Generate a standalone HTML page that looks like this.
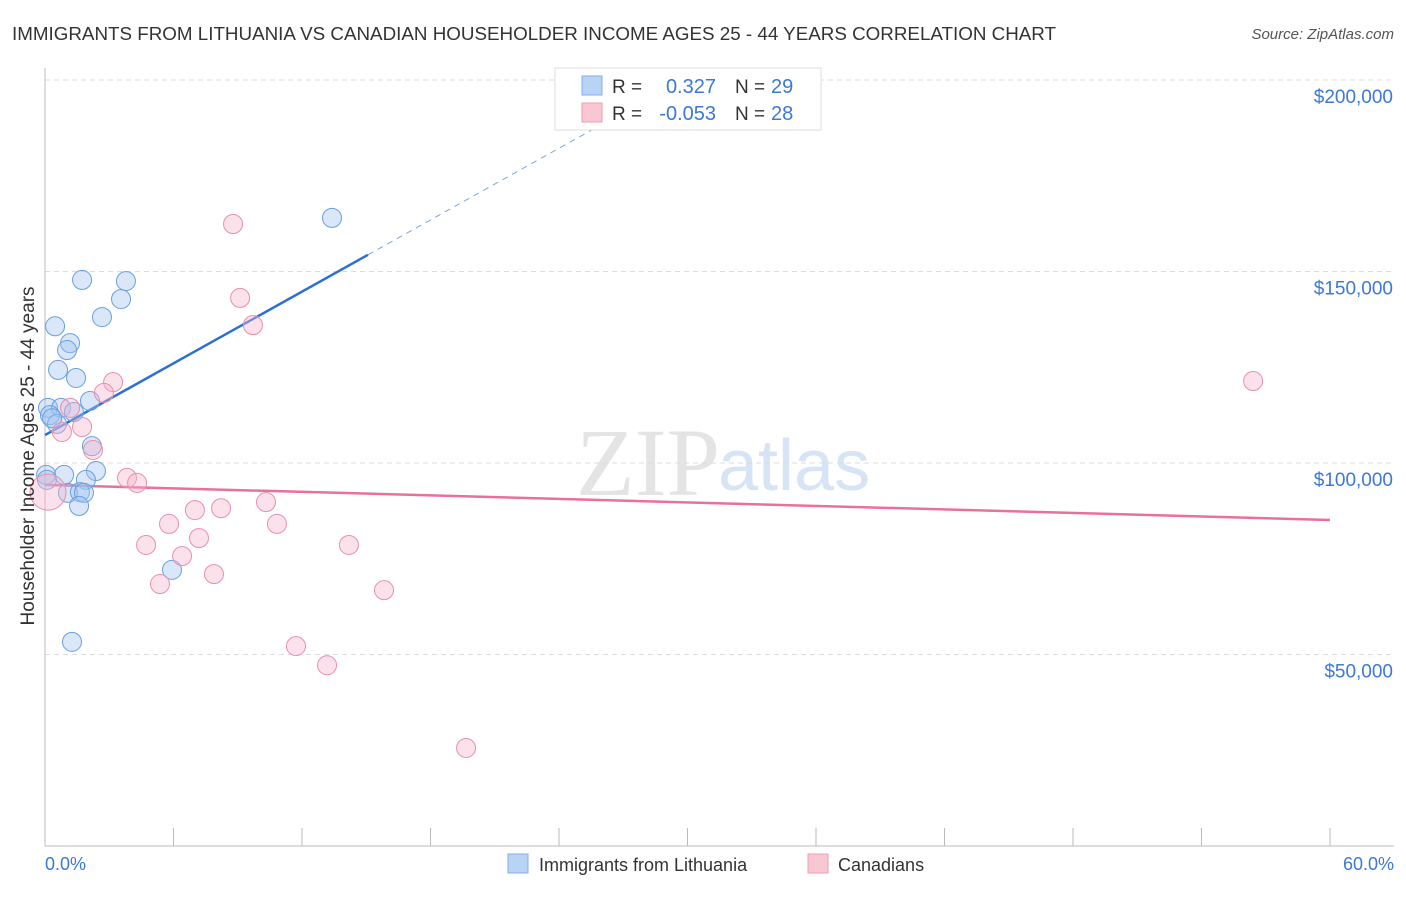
<!DOCTYPE html>
<html><head><meta charset="utf-8"><style>
body{margin:0;background:#fff;font-family:"Liberation Sans",sans-serif;}
</style></head><body>
<svg width="1406" height="892" xmlns="http://www.w3.org/2000/svg" font-family="Liberation Sans, sans-serif">
<text x="12" y="40" font-size="18" fill="#333" textLength="1044" lengthAdjust="spacingAndGlyphs">IMMIGRANTS FROM LITHUANIA VS CANADIAN HOUSEHOLDER INCOME AGES 25 - 44 YEARS CORRELATION CHART</text>
<text x="1394" y="39" font-size="15" fill="#555" font-style="italic" text-anchor="end">Source: ZipAtlas.com</text>
<text x="720" y="495" font-size="96" fill="#e4e4e4" text-anchor="end" font-family="Liberation Serif, serif">ZIP</text>
<text x="718" y="490" font-size="72" fill="#d6e4f5">atlas</text>
<g id="grid"></g>
<line x1="45" y1="68" x2="45" y2="846" stroke="#bbb"/>
<line x1="45" y1="846" x2="1394" y2="846" stroke="#bbb"/>
<g id="ticks"></g>
<g id="lines"></g>
<g id="points"></g>
<text x="34" y="456" font-size="19" fill="#333" text-anchor="middle" transform="rotate(-90 34 456)">Householder Income Ages 25 - 44 years</text>
<text x="45" y="870" font-size="18" fill="#3b78d8">0.0%</text>
<text x="1394" y="870" font-size="18" fill="#3b78d8" text-anchor="end">60.0%</text>
<g>
<rect x="555" y="68" width="266" height="62" fill="#fff" stroke="#ddd"/>
<rect x="582" y="76" width="20" height="19" fill="#b9d3f5" stroke="#84aee6"/>
<rect x="582" y="103" width="20" height="19" fill="#f9c6d4" stroke="#ee9db5"/>
<text x="612" y="93" font-size="19" fill="#333">R =</text>
<text x="716" y="93" font-size="20" fill="#3b78d8" text-anchor="end">0.327</text>
<text x="735" y="93" font-size="19" fill="#333">N =</text>
<text x="771" y="93" font-size="20" fill="#3b78d8">29</text>
<text x="612" y="120" font-size="19" fill="#333">R =</text>
<text x="716" y="120" font-size="20" fill="#3b78d8" text-anchor="end">-0.053</text>
<text x="735" y="120" font-size="19" fill="#333">N =</text>
<text x="771" y="120" font-size="20" fill="#3b78d8">28</text>
</g>
<g>
<rect x="508" y="854" width="20" height="19" fill="#b9d3f5" stroke="#84aee6"/>
<text x="539" y="871" font-size="18" fill="#333">Immigrants from Lithuania</text>
<rect x="808" y="854" width="20" height="19" fill="#f9c6d4" stroke="#ee9db5"/>
<text x="838" y="871" font-size="18" fill="#333">Canadians</text>
</g>
</svg>
<script>
const blueX=[1.73,3.78,3.55,2.66,0.47,1.17,1.03,0.61,1.45,2.10,0.14,0.75,1.35,0.23,0.56,2.19,2.38,0.05,0.89,1.91,1.07,1.63,1.82,1.59,5.93,1.26,13.40,0.33,0.09];
const blueY=[147.8,147.5,142.8,138.1,135.7,131.3,129.5,124.3,122.2,116.2,114.4,114.4,113.3,112.5,110.2,104.4,97.9,96.9,96.9,95.6,92.2,92.4,92.2,88.8,72.1,53.3,164.0,111.7,95.6];
const pinkX=[8.78,9.11,9.71,3.18,2.75,1.17,0.79,1.73,2.24,3.83,4.30,56.41,10.32,7.00,8.22,5.79,10.83,4.72,7.19,6.40,14.19,7.89,5.37,15.83,11.72,13.17,19.66,0.14];
const pinkY=[162.4,143.1,136.0,121.1,118.3,114.4,108.1,109.4,103.4,96.1,94.8,121.4,89.8,87.7,88.2,84.1,84.1,78.6,80.4,75.7,78.6,71.0,68.4,66.8,52.2,47.2,25.6,92.4];
const yTicks=[50,100,150,200];
const yTickLabels=["$50,000","$100,000","$150,000","$200,000"];
const xTicks=[0,6,12,18,24,30,36,42,48,54,60];
const blueTrend=[107.3,3.12];
const pinkTrend=[94.3,-0.153];
const NS="http://www.w3.org/2000/svg";
const sx=v=>45+v*1285/60;
const sy=v=>463-(v-100)*191.5/50;
function mk(tag,attrs,parent){const e=document.createElementNS(NS,tag);for(const k in attrs)e.setAttribute(k,attrs[k]);document.getElementById(parent).appendChild(e);return e;}
yTicks.forEach((t,i)=>{
 const l=mk('line',{x1:45,x2:1394,y1:sy(t),y2:sy(t),stroke:'#ddd','stroke-dasharray':'5,4'},'grid');
 
 
 const tx=mk('text',{x:1393,y:sy(t)+23,'font-size':19,fill:'#3b78d8','text-anchor':'end'},'grid');
 tx.textContent=yTickLabels[i];
 
 
});
xTicks.forEach(t=>{
 const l=mk('line',{x1:sx(t),x2:sx(t),y1:828,y2:846,stroke:'#bbb'},'ticks');
 
 
});
const bx1=15.08,bx2=26.0;
const b1=mk('line',{x1:sx(0),y1:sy(blueTrend[0]),x2:sx(bx1),y2:sy(blueTrend[0]+blueTrend[1]*bx1),stroke:'#2a6fd6','stroke-width':2.5},'lines');


const b2=mk('line',{x1:sx(bx1),y1:sy(blueTrend[0]+blueTrend[1]*bx1),x2:sx(bx2),y2:sy(blueTrend[0]+blueTrend[1]*bx2),stroke:'#7fa6e0','stroke-width':1,'stroke-dasharray':'6,5'},'lines');


const p1=mk('line',{x1:sx(0),y1:sy(pinkTrend[0]),x2:sx(60),y2:sy(pinkTrend[0]+pinkTrend[1]*60),stroke:'#e8709a','stroke-width':2.5},'lines');


blueX.forEach((x,i)=>{
 const c=mk('circle',{cx:sx(x),cy:sy(blueY[i]),r:9.5,fill:'rgba(160,196,240,0.4)',stroke:'#6a9fe0','stroke-width':1},'points');
 
 
});
pinkX.forEach((x,i)=>{
 const c=mk('circle',{cx:sx(x),cy:sy(pinkY[i]),r:i===pinkX.length-1?18:9.5,fill:'rgba(245,180,204,0.4)',stroke:'#e890ab','stroke-width':1},'points');
 
 
});
</script>
</body></html>
